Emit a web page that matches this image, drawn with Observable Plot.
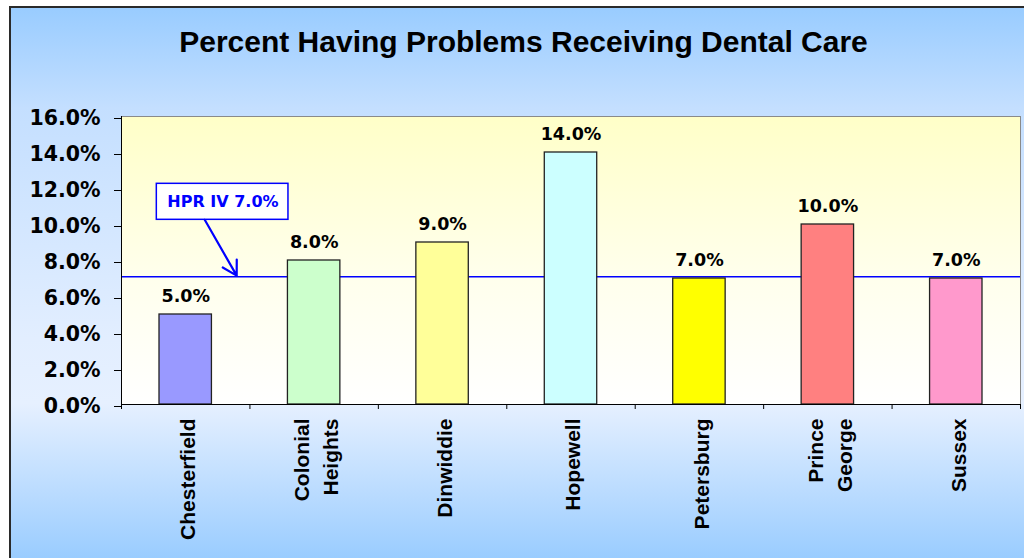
<!DOCTYPE html>
<html>
<head>
<meta charset="utf-8">
<script src="https://cdn.jsdelivr.net/npm/d3@7"></script>
<script src="https://cdn.jsdelivr.net/npm/@observablehq/plot@0.6"></script>
<style>
  html, body { margin: 0; padding: 0; background: #ffffff; }
  #wrap { position: relative; width: 1024px; height: 558px; overflow: hidden; background: #ffffff; }
  #panel {
    position: absolute; left: 9px; top: 6px; width: 1100px; height: 600px;
    border-left: 2px solid #2a2a2a; border-top: 2px solid #2a2a2a;
    background: linear-gradient(to bottom, #99CCFF 0px, #C4DFFF 100px, #E2EEFF 330px, #E6F0FF 395px, #99CCFF 552px);
  }
  #title {
    position: absolute; left: 0; top: 27px; width: 1047px; text-align: center;
    font-family: "Liberation Sans", Arial, sans-serif; font-weight: bold; font-size: 30px; line-height: 30px; color: #000;
  }
  #chart { position: absolute; left: 0; top: 80px; }
</style>
</head>
<body>
<div id="wrap">
  <div id="panel"></div>
  <div id="chart"></div>
  <div id="title">Percent Having Problems Receiving Dental Care</div>
</div>
<script>
// ---- data ----
const categories = ["Chesterfield", "Colonial Heights", "Dinwiddie", "Hopewell", "Petersburg", "Prince George", "Sussex"];
const tickLabels = ["Chesterfield", "Colonial\nHeights", "Dinwiddie", "Hopewell", "Petersburg", "Prince\nGeorge", "Sussex"];
const values = [5.0, 8.0, 9.0, 14.0, 7.0, 10.0, 7.0];
const barColors = ["#9999FF", "#CCFFCC", "#FFFF99", "#CCFFFF", "#FFFF00", "#FF8080", "#FF99CC"];
const yTicks = [0, 2, 4, 6, 8, 10, 12, 14, 16];
const hprValue = 7.1;           // reference line as drawn
const hprLabel = "HPR IV 7.0%";
// annotation placement, in data units (category index, percent)
const annotBox = [{x1: 0.275, x2: 1.30, y1: 10.26, y2: 12.26, tx: 0.79, ty: 11.26, label: hprLabel}];
const annotArrow = [{x1: 0.648, y1: 10.26, x2: 0.897, y2: 7.16}];

const data = categories.map((c, i) => ({category: c, label: tickLabels[i], value: values[i], color: barColors[i], pos: i}));

const plot = Plot.plot({
  width: 1024,
  height: 478,
  marginTop: 36,
  marginBottom: 154,
  marginLeft: 121,
  marginRight: 4,
  style: {background: "transparent", overflow: "visible", fontFamily: "DejaVu Sans, sans-serif", fontWeight: "bold", color: "#000"},
  x: {type: "linear", domain: [0, categories.length], axis: null},
  y: {domain: [0, 16], axis: null},
  color: {type: "identity"},
  marks: [
    Plot.frame({fill: "url(#plotBg)", stroke: "#8a8a8a"}),
    Plot.ruleY([hprValue], {stroke: "#0000FF", strokeWidth: 1.6}),
    Plot.rectY(data, {x1: d => d.pos, x2: d => d.pos + 1, y1: 0, y2: "value", fill: "color", stroke: "#222222", strokeWidth: 1.3, insetLeft: 38, insetRight: 38}),
    Plot.ruleX([0], {stroke: "#000"}),
    Plot.ruleY([0], {stroke: "#000"}),
    Plot.axisY({ticks: yTicks, tickFormat: d => d.toFixed(1) + "%", tickSize: 7, tickPadding: 14, fontSize: 20.5, fontWeight: "bold", fontFamily: "DejaVu Sans", dy: 2, stroke: "#000"}),
    Plot.axisX({ticks: d3.range(categories.length + 1), tickSize: 5, tickFormat: () => "", stroke: "#000"}),
    Plot.text(data, {x: d => d.pos + 0.5, y: 0, text: "label", rotate: -90, textAnchor: "end", lineAnchor: "middle", lineHeight: 1.4, dy: 14, fontSize: 21, fontWeight: "bold", fontFamily: "Liberation Sans, Arial, sans-serif", fill: "#000"}),
    Plot.text(data, {x: d => d.pos + 0.5, y: "value", text: d => d.value.toFixed(1) + "%", lineAnchor: "bottom", dy: -13, fontSize: 17.5, fontWeight: "bold", fontFamily: "DejaVu Sans", fill: "#000"}),
    Plot.rect(annotBox, {x1: "x1", x2: "x2", y1: "y1", y2: "y2", fill: "#ffffff", stroke: "#0000FF", strokeWidth: 1.5}),
    Plot.text(annotBox, {x: "tx", y: "ty", text: "label", fill: "#0000FF", fontSize: 16, fontWeight: "bold", fontFamily: "DejaVu Sans"}),
    Plot.arrow(annotArrow, {x1: "x1", y1: "y1", x2: "x2", y2: "y2", stroke: "#0000FF", strokeWidth: 2.2, headLength: 11})
  ]
});

// gradient definition for the plot area
const svg = d3.select(plot);
const defs = svg.insert("defs", ":first-child");
const grad = defs.append("linearGradient").attr("id", "plotBg").attr("x1", 0).attr("y1", 0).attr("x2", 0).attr("y2", 1);
grad.append("stop").attr("offset", 0).attr("stop-color", "#FFFFC8");
grad.append("stop").attr("offset", 0.55).attr("stop-color", "#FFFFEC");
grad.append("stop").attr("offset", 1).attr("stop-color", "#FFFFFF");

document.getElementById("chart").appendChild(plot);
</script>
</body>
</html>
